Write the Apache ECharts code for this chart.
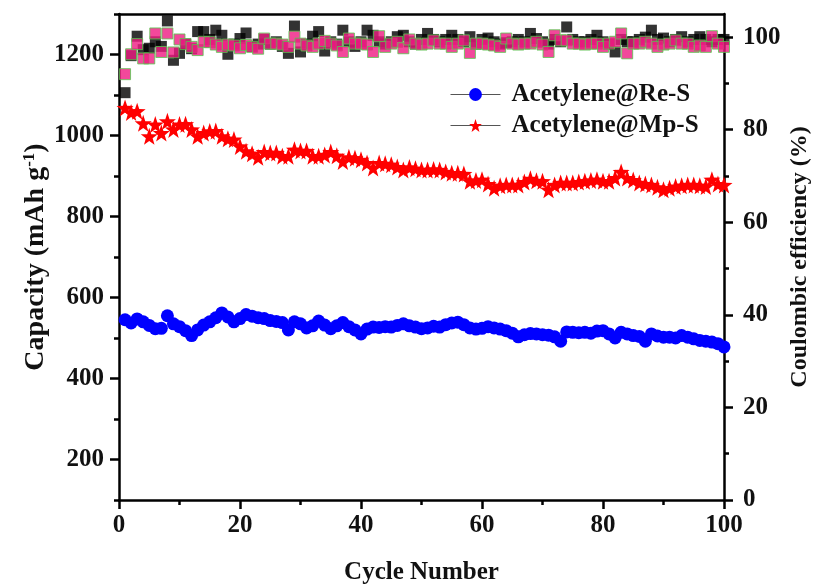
<!DOCTYPE html>
<html><head><meta charset="utf-8">
<script src="https://cdn.jsdelivr.net/npm/echarts@6/dist/echarts.min.js"></script>
<style>html,body{margin:0;padding:0;background:#fff}#c{width:815px;height:588px}</style>
</head><body><div id="c"></div>
<script>
const cycles = [1,2,3,4,5,6,7,8,9,10,11,12,13,14,15,16,17,18,19,20,21,22,23,24,25,26,27,28,29,30,31,32,33,34,35,36,37,38,39,40,41,42,43,44,45,46,47,48,49,50,51,52,53,54,55,56,57,58,59,60,61,62,63,64,65,66,67,68,69,70,71,72,73,74,75,76,77,78,79,80,81,82,83,84,85,86,87,88,89,90,91,92,93,94,95,96,97,98,99,100];
const capReS = [545,537,547,540,531,523,524,555,535,528,518,506,520,532,540,550,562,552,540,548,558,554,550,548,543,541,538,520,540,535,525,530,542,532,523,530,538,528,520,510,522,527,526,528,527,531,535,530,527,523,525,529,527,533,537,539,533,525,522,524,528,525,522,518,512,503,508,511,510,508,507,503,492,515,514,513,514,512,517,518,510,500,514,510,506,504,492,510,505,502,502,500,506,502,498,494,492,490,486,478];
const capMpS = [1068,1057,1060,1030,998,1027,1006,1035,1015,1027,1028,1015,998,1006,1010,1011,998,992,990,973,961,955,946,959,957,957,949,949,965,962,962,949,949,952,959,950,936,946,944,940,932,920,932,930,928,922,915,921,918,915,915,916,915,910,907,907,905,887,889,891,880,870,876,878,878,878,885,893,888,887,866,878,883,883,883,885,887,889,891,887,887,895,910,895,890,883,880,878,872,866,870,874,876,878,878,876,874,891,880,878];
const ceBlack = [88,96,100.2,97.3,97.6,99,98,103.5,95,96.5,98.5,97.5,101.2,101.2,99.5,101.5,100.4,96.3,98.5,99.7,100.9,98,98.5,99.5,98.5,99,98,96.5,102.4,96.8,98.5,100.2,101.2,97,99,98.5,101.5,99,98,99,101.5,100.4,99,98.5,99,100.1,100.4,99,98.5,99.5,100.8,99.5,99,99.5,100.4,99.5,99,100.1,98.5,99.5,99.8,99,98.5,98.8,99,99.5,99,100.8,99.7,99,98.5,99.5,99,102.2,99.5,99,99,99.5,100.4,99,98.5,96.8,99.5,99,99,99.5,100,101.5,99.5,99.8,99,99.5,100.1,99,99.5,100.1,99.5,99,99.5,99.5];
const cePink = [92,96.3,98.5,95.4,95.4,100.8,96.8,100.8,96.7,99.5,98.5,97.9,97.2,99.0,98.9,98.4,97.9,98.4,98.2,97.6,98.3,97.9,97.5,99.7,98.6,98.6,98.4,97.9,100.1,98.6,98.2,97.9,98.6,99.2,98.6,98.2,96.8,99.7,98.6,98.6,98.4,96.8,100.2,97.9,98.6,99.0,97.6,99.5,98.6,98.4,98.6,99.3,98.6,98.6,97.9,98.6,99.3,96.6,98.6,98.6,98.4,98.2,97.9,99.7,98.6,98.4,98.6,98.6,99.0,98.4,96.8,100.4,99.3,99.3,98.6,98.6,98.4,98.6,98.6,97.9,98.6,99.0,100.8,96.5,98.6,98.6,99.0,98.6,97.9,98.4,98.6,99.3,98.6,98.6,97.9,98.2,97.9,100.2,98.6,97.9];
const seriesNames = ['Acetylene@Re-S','Acetylene@Mp-S'];
const xTicks = [0,20,40,60,80,100];
const xMinorTicks = [10,30,50,70,90];
const capTicks = [200,400,600,800,1000,1200];
const capMinorTicks = [100,300,500,700,900,1100,1300];
const ceTicks = [0,20,40,60,80,100];
const ceMinorTicks = [10,30,50,70,90];

const pairs = (ys) => cycles.map((c, i) => [c, ys[i]]);
const FONT = 'Liberation Serif';
const starPath = 'path://M100,0L123.5,67.6L195.1,69.1L138,112.4L158.8,180.9L100,140L41.2,180.9L62,112.4L4.9,69.1L76.5,67.6Z';
const axisLine = {show: true, onZero: false, lineStyle: {color: '#000', width: 2.5}};
const noLine = {show: false, onZero: false};
const lbl = {fontFamily: FONT, fontWeight: 'bold', fontSize: 25, color: '#111', formatter: (v) => String(v)};
const majorTick = (vals) => ({show: true, inside: false, length: 9, lineStyle: {width: 2.5, color: '#000'}, customValues: vals});
const minorTick = (vals) => ({show: true, inside: false, length: 5, lineStyle: {width: 2.5, color: '#000'}, customValues: vals});
const titleStyle = (size) => ({fontFamily: FONT, fontWeight: 'bold', fontSize: size, color: '#111'});

const chart = echarts.init(document.getElementById('c'));
chart.setOption({
  animation: false,
  backgroundColor: '#fff',
  grid: {left: 119, right: 91, top: 14, bottom: 88, containLabel: false, outerBoundsMode: 'none'},
  legend: {
    orient: 'vertical', left: 445, top: 77, itemWidth: 50, itemHeight: 16, itemGap: 6,
    textStyle: {fontFamily: FONT, fontWeight: 'bold', fontSize: 25, color: '#111', padding: [0,0,0,6]},
    data: [
      {name: seriesNames[0], lineStyle: {color: '#555', width: 1, opacity: 1}},
      {name: seriesNames[1], lineStyle: {color: '#555', width: 1, opacity: 1}}
    ]
  },
  xAxis: [
    {type: 'value', position: 'bottom', min: 0, max: 100, interval: 20,
     axisLine: axisLine, splitLine: {show: false},
     axisTick: majorTick(xTicks),
     axisLabel: Object.assign({margin: 13, customValues: xTicks}, lbl),
     name: 'Cycle Number', nameLocation: 'middle', nameGap: 60,
     nameTextStyle: titleStyle(25)},
    {type: 'value', position: 'bottom', min: 0, max: 100, interval: 10,
     axisLine: noLine, splitLine: {show: false},
     axisTick: minorTick(xMinorTicks), axisLabel: {show: false}},
    {type: 'value', position: 'top', min: 0, max: 100,
     axisLine: axisLine, splitLine: {show: false}, axisTick: {show: false}, axisLabel: {show: false}}
  ],
  yAxis: [
    {type: 'value', position: 'left', min: 100, max: 1300, interval: 100,
     axisLine: axisLine, splitLine: {show: false},
     axisTick: majorTick(capTicks),
     axisLabel: Object.assign({margin: 15, customValues: capTicks}, lbl),
     name: 'Capacity (mAh g{sup|-1})', nameLocation: 'middle', nameGap: 69, nameRotate: 90, nameMoveOverlap: false,
     nameTextStyle: Object.assign(titleStyle(28), {
       rich: {sup: {fontFamily: FONT, fontWeight: 'bold', fontSize: 17, color: '#111', verticalAlign: 'top', padding: [0,0,12,0]}}})},
    {type: 'value', position: 'right', min: 0, max: 105, interval: 10,
     axisLine: axisLine, splitLine: {show: false},
     axisTick: majorTick(ceTicks),
     axisLabel: Object.assign({margin: 19, customValues: ceTicks}, lbl),
     name: 'Coulombic efficiency (%)', nameLocation: 'middle', nameGap: 64, nameRotate: 90, nameMoveOverlap: false,
     nameTextStyle: titleStyle(24)},
    {type: 'value', position: 'left', min: 100, max: 1300, interval: 100,
     axisLine: noLine, splitLine: {show: false},
     axisTick: minorTick(capMinorTicks), axisLabel: {show: false}},
    {type: 'value', position: 'right', min: 0, max: 105, interval: 10,
     axisLine: noLine, splitLine: {show: false},
     axisTick: minorTick(ceMinorTicks), axisLabel: {show: false}}
  ],
  series: [
    {name: 'CE-black', type: 'scatter', xAxisIndex: 0, yAxisIndex: 1, symbol: 'rect', symbolSize: 11,
     itemStyle: {color: '#000'}, z: 2, data: pairs(ceBlack)},
    {name: 'CE-pink', type: 'scatter', xAxisIndex: 0, yAxisIndex: 1, symbol: 'rect', symbolSize: 11,
     itemStyle: {color: '#ef1a82', borderColor: '#57c94f', borderWidth: 1}, z: 3, data: pairs(cePink)},
    {name: seriesNames[0], type: 'line', xAxisIndex: 0, yAxisIndex: 0, symbol: 'circle', symbolSize: 13,
     showAllSymbol: true, itemStyle: {color: '#0000ff'}, lineStyle: {opacity: 0}, z: 4, data: pairs(capReS)},
    {name: seriesNames[1], type: 'line', xAxisIndex: 0, yAxisIndex: 0, symbol: starPath, symbolSize: 17,
     showAllSymbol: true, itemStyle: {color: '#ff0000'}, lineStyle: {opacity: 0}, z: 4, data: pairs(capMpS)}
  ]
});
</script>
</body></html>
